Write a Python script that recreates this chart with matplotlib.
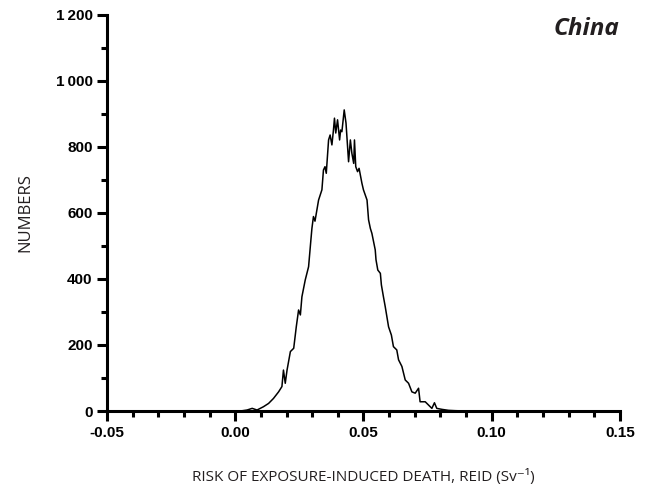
import matplotlib
matplotlib.use("Agg")
import matplotlib.pyplot as plt
from matplotlib.ticker import MultipleLocator

# REID histogram for China
reid = [0.000, 0.0020, 0.0046, 0.0066, 0.0085, 0.0110, 0.0130, 0.0149, 0.0169, 0.0182,
        0.0188, 0.0195, 0.0202, 0.0215, 0.0228, 0.0238, 0.0247, 0.0254, 0.0260, 0.0273,
        0.0286, 0.0295, 0.0299, 0.0305, 0.0311, 0.0325, 0.0338, 0.0344, 0.0350, 0.0355,
        0.0364, 0.0370, 0.0377, 0.0383, 0.0387, 0.0392, 0.0399, 0.0407, 0.0411, 0.0416,
        0.0425, 0.0432, 0.0442, 0.0449, 0.0455, 0.0462, 0.0465, 0.0470, 0.0477, 0.0483,
        0.0494, 0.0500, 0.0514, 0.0520, 0.0527, 0.0533, 0.0546, 0.0549, 0.0556, 0.0566,
        0.0570, 0.0578, 0.0585, 0.0598, 0.0609, 0.0617, 0.0630, 0.0637, 0.0650, 0.0663,
        0.0676, 0.0689, 0.0702, 0.0715, 0.0721, 0.0741, 0.0754, 0.0767, 0.0777, 0.0786,
        0.0806, 0.0832, 0.0858, 0.0900]
counts = [0, 0, 3, 8, 3, 13, 23, 38, 58, 74,
          124, 84, 124, 180, 190, 255, 306, 291, 346, 397,
          437, 518, 553, 589, 575, 639, 670, 730, 740, 720,
          821, 836, 806, 851, 887, 842, 882, 821, 851, 846,
          912, 872, 755, 821, 780, 750, 821, 740, 725, 735,
          690, 670, 639, 579, 553, 538, 488, 458, 427, 417,
          382, 346, 316, 255, 230, 195, 185, 155, 135, 94,
          84, 58, 54, 69, 28, 28, 18, 8, 25, 8,
          5, 2, 1, 0]

x_ticks = [-0.05, 0.00, 0.05, 0.10, 0.15]
x_ticklabels = ["-0.05", "0.00", "0.05", "0.10", "0.15"]
y_ticks = [0, 200, 400, 600, 800, 1000, 1200]
y_ticklabels = ["0", "200", "400", "600", "800", "1\u2009000", "1\u2009200"]

fig = plt.figure(figsize=(6.49, 4.94), dpi=100)
ax = fig.add_axes([0.165, 0.168, 0.79, 0.802])

ax.plot(reid, counts, color="black", linewidth=1.1)

ax.set_xlim(-0.05, 0.15)
ax.set_ylim(0, 1200)
ax.spines["top"].set_visible(False)
ax.spines["right"].set_visible(False)
for s in ("left", "bottom"):
    ax.spines[s].set_linewidth(2.2)

ax.set_xticks(x_ticks)
ax.set_xticklabels(x_ticklabels)
ax.set_yticks(y_ticks)
ax.set_yticklabels(y_ticklabels)
ax.xaxis.set_minor_locator(MultipleLocator(0.01))
ax.yaxis.set_minor_locator(MultipleLocator(100))
ax.tick_params(which="major", length=7, width=2.2, direction="out")
ax.tick_params(which="minor", length=4, width=2.2, direction="out")
for lab in ax.get_xticklabels() + ax.get_yticklabels():
    lab.set_fontfamily(["Liberation Sans", "DejaVu Sans"])
    lab.set_fontweight("bold")
    lab.set_fontsize(11)

ax.set_ylabel("NUMBERS", fontsize=12, family=["Open Sans", "DejaVu Sans"],
              color="#231f20", labelpad=16)
ax.set_xlabel("RISK OF EXPOSURE-INDUCED DEATH, REID (Sv\u207b\u00b9)", fontsize=11,
              family=["Open Sans", "DejaVu Sans"], color="#231f20", labelpad=21)

ax.text(1.0, 0.995, "China", transform=ax.transAxes, ha="right", va="top",
        fontsize=17.5, fontweight="bold", fontstyle="italic",
        family=["Open Sans", "DejaVu Sans"], color="#231f20")

fig.savefig("out.png", dpi=100)
